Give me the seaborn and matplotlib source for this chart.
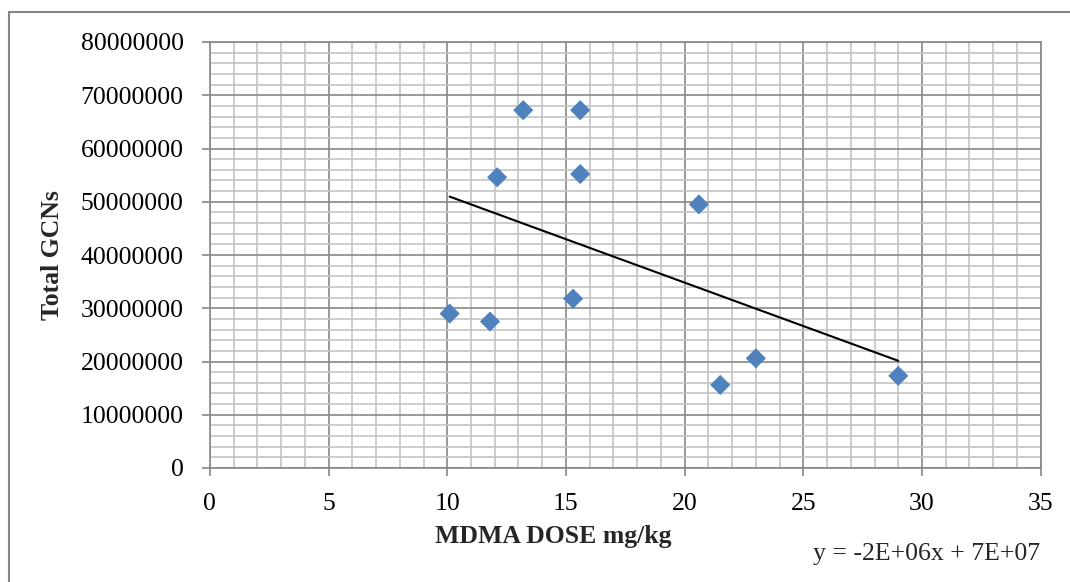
import matplotlib
matplotlib.use("Agg")
import matplotlib.pyplot as plt
import matplotlib.ticker as mticker
from matplotlib.lines import Line2D
import numpy as np
import pandas as pd
import seaborn as sns

# MDMA dose (mg/kg) against total GCNs
dose = [10.1, 11.8, 12.1, 13.2, 15.6, 15.6, 15.3, 20.6, 21.5, 23.0, 29.0]
gcns = [29000000, 27500000, 54600000, 67200000, 67200000, 55200000,
        31800000, 49500000, 15600000, 20600000, 17300000]

x_ticks = [0, 5, 10, 15, 20, 25, 30, 35]
y_ticks = [0, 10000000, 20000000, 30000000, 40000000, 50000000,
           60000000, 70000000, 80000000]
equation = "y = -2E+06x + 7E+07"

df = pd.DataFrame({"dose": dose, "gcns": gcns})

sns.set_theme(style="white")
plt.rcParams["font.family"] = ["Liberation Serif", "DejaVu Serif"]

W, H = 1070, 582
fig = plt.figure(figsize=(W / 100, H / 100), dpi=100)
ax = fig.add_axes([209.9 / W, 1 - 468 / H, (1040.7 - 209.9) / W, (468 - 42) / H])

major_c = "#888888"
minor_c = "#c3c3c3"

ax.set_xlim(0, 35)
ax.set_ylim(0, 80000000)
ax.xaxis.set_major_locator(mticker.FixedLocator(x_ticks))
ax.yaxis.set_major_locator(mticker.FixedLocator(y_ticks))
ax.xaxis.set_minor_locator(mticker.MultipleLocator(1))
ax.yaxis.set_minor_locator(mticker.MultipleLocator(2000000))
ax.yaxis.set_major_formatter(mticker.FuncFormatter(lambda v, p: f"{int(round(v))}"))
ax.xaxis.set_major_formatter(mticker.FuncFormatter(lambda v, p: f"{int(round(v))}"))

ax.grid(which="minor", color=minor_c, linewidth=1.2, zorder=0)
ax.grid(which="major", color=major_c, linewidth=1.2, zorder=0.5)
ax.set_axisbelow(True)

for side, sp in ax.spines.items():
    sp.set_visible(True)
    sp.set_color(major_c)
    sp.set_linewidth(1.2)

ax.tick_params(which="major", direction="out", length=6, width=1.2, color=major_c,
               labelsize=18.5, labelcolor="black", bottom=True, left=True)
ax.tick_params(axis="x", which="major", pad=12)
ax.tick_params(axis="y", which="major", pad=13)
ax.tick_params(which="minor", length=0)

# Linear trend line over the data range
sns.regplot(data=df, x="dose", y="gcns", ax=ax, scatter=False, ci=None,
            truncate=True, line_kws={"color": "black", "linewidth": 1.5, "zorder": 3})

sns.scatterplot(data=df, x="dose", y="gcns", ax=ax, marker="D", s=105,
                color="#4f81bd", edgecolor="none", linewidth=0, zorder=4)

ax.set_xlabel("MDMA DOSE mg/kg", fontsize=18.5, fontweight="bold", labelpad=7)
ax.xaxis.label.set_x((553 - 209.9) / (1040.7 - 209.9))
ax.set_ylabel("Total GCNs", fontsize=18.5, fontweight="bold", labelpad=12)

fig.text(1040 / W, 1 - 560 / H, equation, fontsize=18.5, ha="right",
         va="baseline")

# Chart frame (top and left edges)
fig.add_artist(Line2D([9 / W, 9 / W], [0, 1 - 12 / H], transform=fig.transFigure,
                      color="#868686", linewidth=1.5))
fig.add_artist(Line2D([9 / W, 1], [1 - 12 / H, 1 - 12 / H], transform=fig.transFigure,
                      color="#868686", linewidth=1.5))

fig.savefig("out.png", dpi=100, facecolor="white")
